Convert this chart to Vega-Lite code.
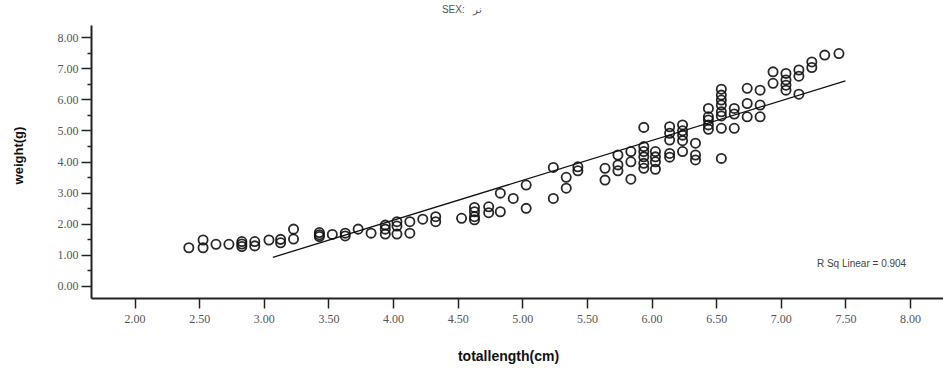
{
  "$schema": "https://vega.github.io/schema/vega-lite/v6.json",
  "width": 852,
  "height": 273,
  "autosize": "none",
  "padding": {"left": 91, "top": 25, "right": 0, "bottom": 72},
  "background": "white",
  "config": {"view": {"stroke": null}},
  "title": {"text": "SEX:\u00a0\u00a0\u00a0نر", "fontSize": 10, "font": "Liberation Sans", "fontWeight": "normal", "color": "#555555", "dx": -55, "offset": 10, "anchor": "middle"},
  "datasets": {
    "pts": [
      {"len": 2.42, "wt": 1.22}, {"len": 2.53, "wt": 1.47}, {"len": 2.53, "wt": 1.22}, {"len": 2.63, "wt": 1.33},
      {"len": 2.73, "wt": 1.33}, {"len": 2.83, "wt": 1.42}, {"len": 2.83, "wt": 1.34}, {"len": 2.83, "wt": 1.26},
      {"len": 2.93, "wt": 1.42}, {"len": 2.93, "wt": 1.28}, {"len": 3.04, "wt": 1.47}, {"len": 3.13, "wt": 1.49},
      {"len": 3.13, "wt": 1.38}, {"len": 3.23, "wt": 1.82}, {"len": 3.23, "wt": 1.50}, {"len": 3.43, "wt": 1.71},
      {"len": 3.43, "wt": 1.64}, {"len": 3.43, "wt": 1.58}, {"len": 3.53, "wt": 1.65}, {"len": 3.63, "wt": 1.69},
      {"len": 3.63, "wt": 1.60}, {"len": 3.73, "wt": 1.82}, {"len": 3.83, "wt": 1.69}, {"len": 3.94, "wt": 1.95},
      {"len": 3.94, "wt": 1.82}, {"len": 3.94, "wt": 1.66}, {"len": 4.03, "wt": 2.06}, {"len": 4.03, "wt": 1.92},
      {"len": 4.03, "wt": 1.66}, {"len": 4.13, "wt": 2.06}, {"len": 4.13, "wt": 1.69}, {"len": 4.23, "wt": 2.14},
      {"len": 4.33, "wt": 2.22}, {"len": 4.33, "wt": 2.06}, {"len": 4.53, "wt": 2.17}, {"len": 4.63, "wt": 2.52},
      {"len": 4.63, "wt": 2.38}, {"len": 4.63, "wt": 2.22}, {"len": 4.63, "wt": 2.12}, {"len": 4.74, "wt": 2.54},
      {"len": 4.74, "wt": 2.35}, {"len": 4.83, "wt": 2.98}, {"len": 4.83, "wt": 2.38}, {"len": 4.93, "wt": 2.81},
      {"len": 5.03, "wt": 3.24}, {"len": 5.03, "wt": 2.49}, {"len": 5.24, "wt": 3.81}, {"len": 5.24, "wt": 2.81},
      {"len": 5.34, "wt": 3.49}, {"len": 5.34, "wt": 3.14}, {"len": 5.43, "wt": 3.83}, {"len": 5.43, "wt": 3.70},
      {"len": 5.64, "wt": 3.78}, {"len": 5.64, "wt": 3.40}, {"len": 5.74, "wt": 4.21}, {"len": 5.74, "wt": 3.89},
      {"len": 5.74, "wt": 3.70}, {"len": 5.84, "wt": 4.32}, {"len": 5.84, "wt": 3.99}, {"len": 5.84, "wt": 3.43},
      {"len": 5.94, "wt": 5.10}, {"len": 5.94, "wt": 4.48}, {"len": 5.94, "wt": 4.32}, {"len": 5.94, "wt": 4.15},
      {"len": 5.94, "wt": 3.94}, {"len": 5.94, "wt": 3.78}, {"len": 6.03, "wt": 4.32}, {"len": 6.03, "wt": 4.15},
      {"len": 6.03, "wt": 3.99}, {"len": 6.03, "wt": 3.75}, {"len": 6.14, "wt": 5.12}, {"len": 6.14, "wt": 4.91},
      {"len": 6.14, "wt": 4.69}, {"len": 6.14, "wt": 4.26}, {"len": 6.14, "wt": 4.14}, {"len": 6.24, "wt": 5.18},
      {"len": 6.24, "wt": 4.99}, {"len": 6.24, "wt": 4.85}, {"len": 6.24, "wt": 4.67}, {"len": 6.24, "wt": 4.32},
      {"len": 6.34, "wt": 4.59}, {"len": 6.34, "wt": 4.21}, {"len": 6.34, "wt": 4.05}, {"len": 6.44, "wt": 5.71},
      {"len": 6.44, "wt": 5.44}, {"len": 6.44, "wt": 5.34}, {"len": 6.44, "wt": 5.18}, {"len": 6.44, "wt": 5.04},
      {"len": 6.54, "wt": 6.33}, {"len": 6.54, "wt": 6.14}, {"len": 6.54, "wt": 5.98}, {"len": 6.54, "wt": 5.82},
      {"len": 6.54, "wt": 5.60}, {"len": 6.54, "wt": 5.47}, {"len": 6.54, "wt": 5.07}, {"len": 6.54, "wt": 4.10},
      {"len": 6.64, "wt": 5.71}, {"len": 6.64, "wt": 5.53}, {"len": 6.64, "wt": 5.07}, {"len": 6.74, "wt": 6.36},
      {"len": 6.74, "wt": 5.87}, {"len": 6.74, "wt": 5.44}, {"len": 6.84, "wt": 6.30}, {"len": 6.84, "wt": 5.82},
      {"len": 6.84, "wt": 5.44}, {"len": 6.94, "wt": 6.89}, {"len": 6.94, "wt": 6.52}, {"len": 7.04, "wt": 6.84},
      {"len": 7.04, "wt": 6.63}, {"len": 7.04, "wt": 6.46}, {"len": 7.04, "wt": 6.30}, {"len": 7.14, "wt": 6.95},
      {"len": 7.14, "wt": 6.75}, {"len": 7.14, "wt": 6.17}, {"len": 7.24, "wt": 7.21}, {"len": 7.24, "wt": 7.03},
      {"len": 7.34, "wt": 7.43}, {"len": 7.45, "wt": 7.48}
    ],
    "fit": [{"len": 3.07, "wt": 0.91}, {"len": 7.50, "wt": 6.60}],
    "note": [{"len": 7.97, "wt": 0.70, "label": "R Sq Linear = 0.904"}]
  },
  "encoding": {
    "x": {
      "field": "len", "type": "quantitative",
      "scale": {"domain": [1.663, 8.255], "nice": false, "zero": false},
      "axis": {
        "title": "totallength(cm)",
        "values": [2, 2.5, 3, 3.5, 4, 4.5, 5, 5.5, 6, 6.5, 7, 7.5, 8],
        "format": ".2f",
        "grid": false,
        "domainColor": "#222222", "domainWidth": 2,
        "tickColor": "#222222", "tickWidth": 1.5, "tickSize": 10,
        "labelFont": "Liberation Serif", "labelFontSize": 12, "labelColor": "#555555", "labelPadding": 5,
        "titleFont": "Liberation Sans", "titleFontSize": 14, "titleFontWeight": "bold", "titleColor": "#111111",
        "titleX": 417, "titleY": 58, "titleBaseline": "middle"
      }
    },
    "y": {
      "field": "wt", "type": "quantitative",
      "scale": {"domain": [-0.4, 8.4], "nice": false, "zero": false},
      "axis": {
        "title": "weight(g)",
        "values": [0, 0.5, 1, 1.5, 2, 2.5, 3, 3.5, 4, 4.5, 5, 5.5, 6, 6.5, 7, 7.5, 8],
        "labelExpr": "datum.value % 1 === 0 ? format(datum.value, '.2f') : ''",
        "grid": false,
        "domainColor": "#222222", "domainWidth": 2,
        "tickColor": "#222222", "tickWidth": 1.5,
        "tickSize": {"condition": {"test": "datum.value % 1 !== 0", "value": 4}, "value": 10},
        "labelFont": "Liberation Serif", "labelFontSize": 12, "labelColor": "#555555", "labelPadding": 3,
        "titleFont": "Liberation Sans", "titleFontSize": 13, "titleFontWeight": "bold", "titleColor": "#111111",
        "titleX": -73, "titleY": 130, "titleBaseline": "middle"
      }
    }
  },
  "layer": [
    {
      "data": {"name": "pts"},
      "mark": {"type": "point", "shape": "circle", "filled": false, "size": 85, "stroke": "#111111", "strokeWidth": 1.8, "opacity": 0.9}
    },
    {
      "data": {"name": "fit"},
      "mark": {"type": "line", "color": "#111111", "strokeWidth": 1.3},
      "encoding": {}
    },
    {
      "data": {"name": "note"},
      "mark": {"type": "text", "align": "right", "baseline": "middle", "font": "Liberation Sans", "fontSize": 10, "color": "#444444"},
      "encoding": {"text": {"field": "label"}}
    }
  ]
}
